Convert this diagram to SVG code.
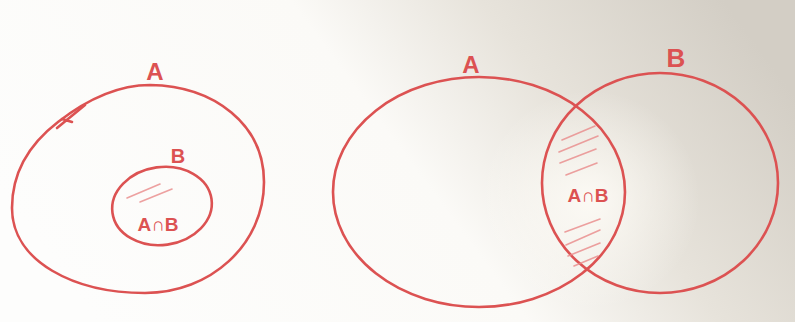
<svg xmlns="http://www.w3.org/2000/svg" width="795" height="322" viewBox="0 0 795 322">
<defs>
<linearGradient id="paper" x1="0" y1="0.6" x2="1" y2="0.3">
<stop offset="0" stop-color="#fdfdfc"/>
<stop offset="0.5" stop-color="#fbfaf7"/>
<stop offset="0.72" stop-color="#e7e3db"/>
<stop offset="1" stop-color="#d3cec5"/>
</linearGradient>
<radialGradient id="glare" cx="590" cy="200" r="110" gradientUnits="userSpaceOnUse">
<stop offset="0" stop-color="#fffdf8" stop-opacity="0.85"/>
<stop offset="1" stop-color="#fffdf8" stop-opacity="0"/>
</radialGradient>
<clipPath id="lens">
<ellipse cx="479" cy="192" rx="146" ry="115"/>
</clipPath>
</defs>
<style>
.ring{fill:none;stroke:#dc5252;stroke-width:2.6;stroke-linecap:round}
.hatch{fill:none;stroke:#e88a8a;stroke-width:1.6;stroke-linecap:round;opacity:0.8}
.lbl{font-family:"Liberation Sans",Arial,sans-serif;fill:#dc5252;font-weight:bold}
</style>
<rect x="0" y="0" width="795" height="322" fill="url(#paper)"/>
<rect x="0" y="0" width="795" height="322" fill="url(#glare)"/>

<g id="left-A">
<path class="ring" d="M150 85 C215 86 264 125 264 182 C264 245 210 293 145 293 C75 293 12 262 12 208 C12 170 32 142 58 122 C85 101 115 85 150 85 Z"/>
<path class="ring" d="M57 128 L85 105 M62 119 L72 122" stroke-width="1.8"/>
<text class="lbl" x="155" y="80" font-size="24" text-anchor="middle">A</text>
</g>
<g id="left-B">
<ellipse class="ring" cx="162" cy="206" rx="50" ry="39" transform="rotate(-8 162 206)"/>
<path class="hatch" d="M127 198 L160 184 M140 202 L172 189" opacity="0.5"/>
<text class="lbl" x="178" y="163" font-size="20" text-anchor="middle">B</text>
<text class="lbl" x="158" y="231" font-size="19" text-anchor="middle">A∩B</text>
</g>

<g id="right-A">
<ellipse class="ring" cx="479" cy="192" rx="146" ry="115"/>
<text class="lbl" x="471" y="73" font-size="24" text-anchor="middle">A</text>
</g>
<g id="right-B">
<ellipse class="ring" cx="660" cy="183" rx="118" ry="110"/>
<text class="lbl" x="676" y="67" font-size="26" text-anchor="middle">B</text>
</g>
<g id="intersection">
<g clip-path="url(#lens)">
<path class="hatch" d="M562 140 L595 126 M559 152 L598 136 M560 163 L596 149 M566 175 L597 163 M565 232 L600 219 M566 245 L600 230 M568 256 L600 243 M574 266 L598 256"/>
</g>
<text class="lbl" x="588" y="202" font-size="19" text-anchor="middle">A∩B</text>
</g>
</svg>
